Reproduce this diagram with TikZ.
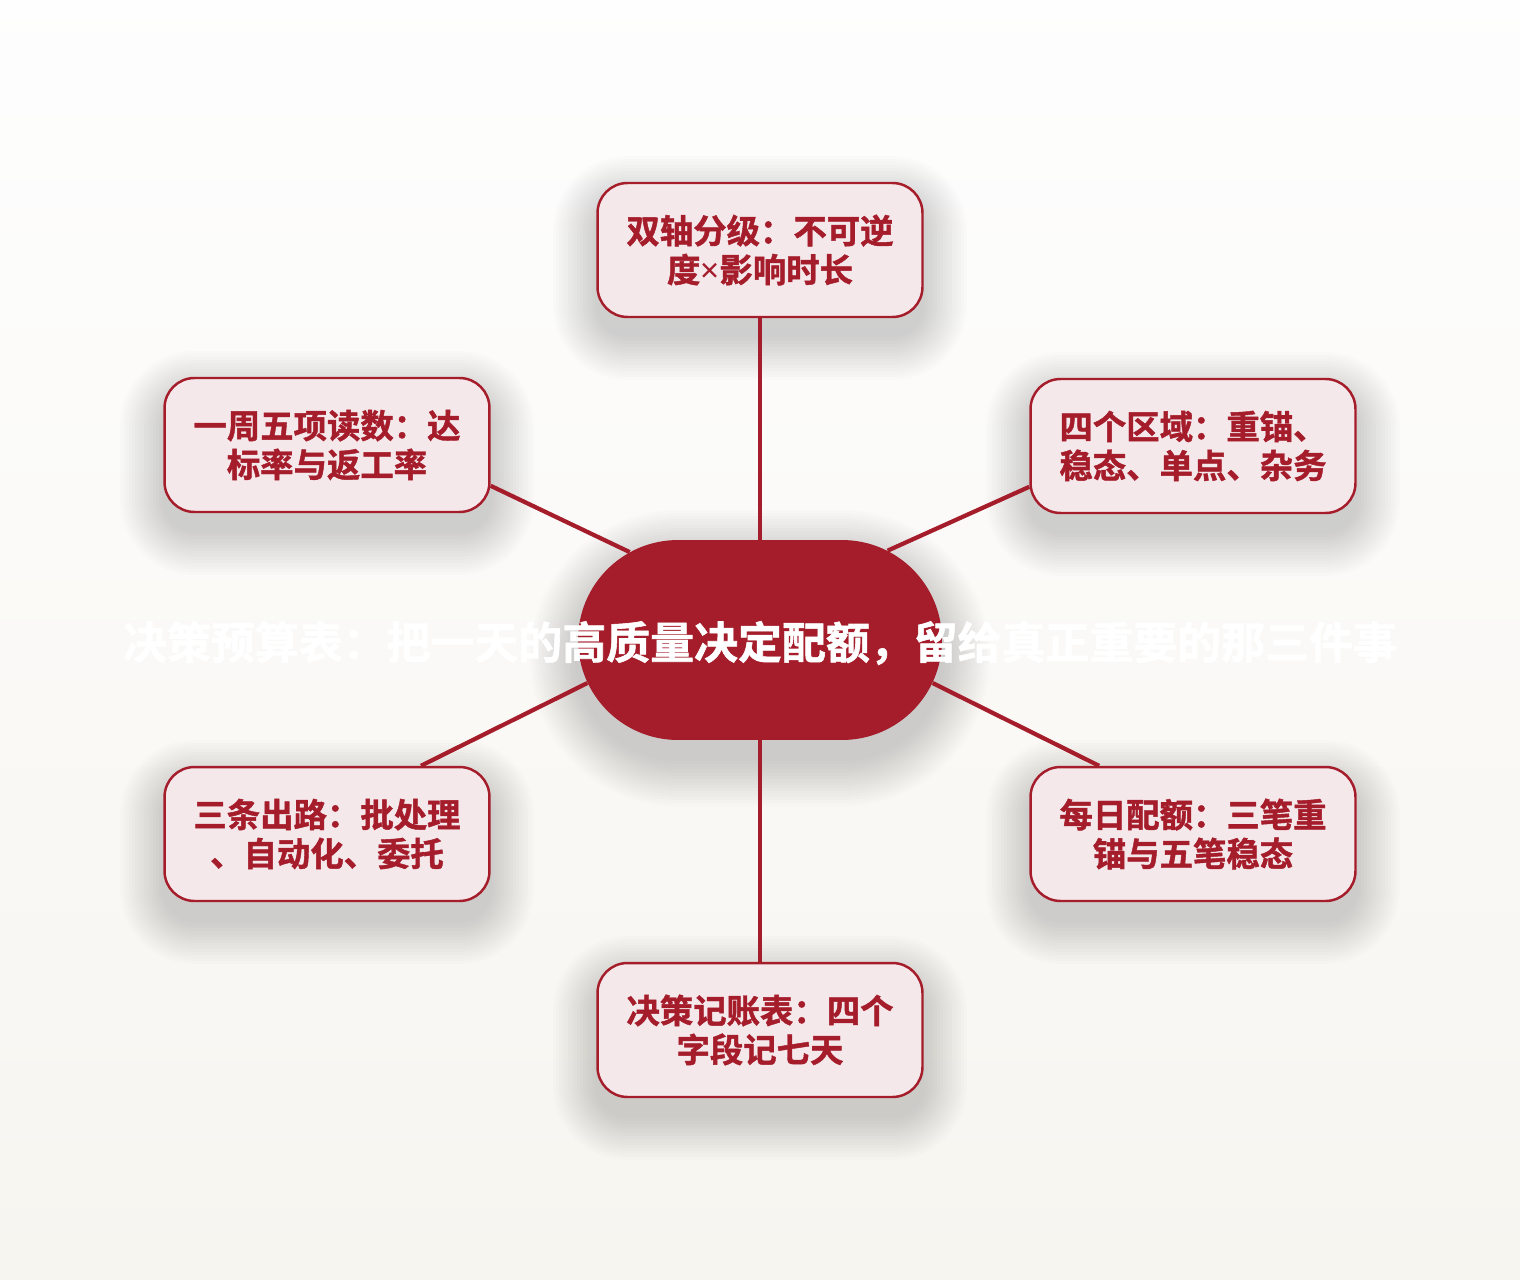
\documentclass[tikz,border=0pt]{standalone}
\usepackage{fontspec}
\newfontfamily\cjk{Noto Sans CJK SC}[BoldFont={Noto Sans CJK SC Bold},BoldFeatures={FakeBold=1.3}]
\newfontfamily\latin{Noto Sans}
\usetikzlibrary{shapes.misc}
\definecolor{budgetred}{RGB}{165,28,43}
\definecolor{budgetpink}{RGB}{245,232,235}

\begin{document}
\begin{tikzpicture}[x=0.02cm,y=-0.02cm,
  haze/.style={fill=black!85,opacity=0.011},
  leaf/.style={draw=budgetred,line width=1.4pt,fill=budgetpink,rounded corners=0.6cm,minimum width=6.5cm,minimum height=2.68cm,align=center,text=budgetred,font=\cjk\bfseries\fontsize{19}{22.2}\selectfont},
  hubshape/.style={rounded rectangle,fill=budgetred,minimum width=7.28cm,minimum height=4cm,inner sep=0pt},
  link/.style={budgetred,line width=2.4pt}]
\useasboundingbox (0,0) rectangle (1520,1280);
\fill[top color=white!99!gray,bottom color={rgb,255:red,247;green,245;blue,240}] (0,0) rectangle (1520,1280);

\foreach \s in {1,...,16}
\fill[haze,rounded corners={2cm+\s*0.06cm}] (578-3*\s,558-3*\s) rectangle (942+3*\s,758+3*\s);
\node[hubshape] (hub) at (760,640) {};

\foreach \n/\x/\y/\t in {top/760/250/{双轴分级：不可逆\\度{\latin\bfseries ×}影响时长},
  ul/327/445/{一周五项读数：达\\标率与返工率},
  ur/1193/446/{四个区域：重锚、\\稳态、单点、杂务},
  ll/327/834/{三条出路：批处理\\、自动化、委托},
  lr/1193/834/{每日配额：三笔重\\锚与五笔稳态},
  bot/760/1030/{决策记账表：四个\\字段记七天}}{
\foreach \s in {1,...,15}
\fill[haze,rounded corners={0.6cm+\s*0.06cm}] (\x-162-3*\s,\y-49-3*\s) rectangle (\x+162+3*\s,\y+85+3*\s);
\node[leaf] (\n) at (\x,\y) {\t};
}

\foreach \a/\n/\b in {90/top/-90,146/ul/-14,35/ur/-166,-166/ll/36,-14/lr/144,-90/bot/90}
\draw[link] (hub.\a) -- (\n.\b);

\node[text=white,font=\cjk\bfseries\fontsize{25}{30}\selectfont] (title) at (760,643) {决策预算表：把一天的高质量决定配额，留给真正重要的那三件事};
\end{tikzpicture}
\end{document}
